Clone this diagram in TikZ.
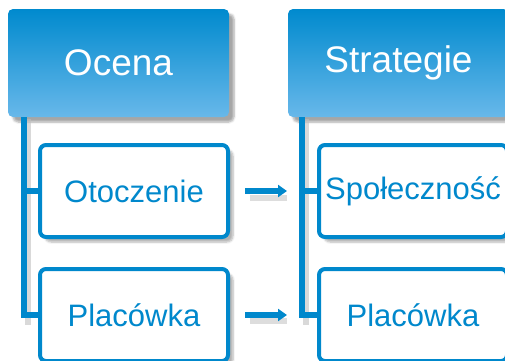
\documentclass[tikz,border=0pt]{standalone}
\usepackage{fontspec}
\setmainfont{Liberation Sans}
\usetikzlibrary{shadows.blur,arrows.meta}
\definecolor{bblue}{RGB}{0,136,204}
\definecolor{btop}{RGB}{0,138,206}
\definecolor{bbot}{RGB}{104,184,234}
\tikzset{
  header/.style={rectangle, rounded corners=5pt, minimum width=221pt, minimum height=108pt,
    top color=btop, bottom color=bbot, draw=none, text=white, inner sep=0pt,
    font=\fontsize{37}{41}\selectfont,
    blur shadow={shadow xshift=5pt, shadow yshift=-5pt, shadow blur steps=6, shadow opacity=35}},
  child/.style={rectangle, rounded corners=6pt, minimum width=188pt, minimum height=92pt,
    draw=bblue, line width=4pt, fill=white, text=bblue, inner sep=0pt,
    font=\fontsize{31}{35}\selectfont,
    blur shadow={shadow xshift=5pt, shadow yshift=-5pt, shadow blur steps=6, shadow opacity=30}},
  conn/.style={draw=bblue, line width=6pt, line join=miter},
  connshadow/.style={draw=black!25, line width=6pt, opacity=0.6},
  arr/.style={draw=bblue, line width=6pt, -{Triangle[length=9pt,width=12pt]}},
  arrshadow/.style={draw=black!22, line width=6pt, opacity=0.6}
}
\begin{document}
\begin{tikzpicture}[x=1pt,y=-1pt]
\useasboundingbox (0,0) rectangle (505,360);
\clip (0,0) rectangle (505,360);
% header nodes
\node[header] (ocena) at (118.5,63) {Ocena};
\node[header] (strat) at (398.5,63) {Strategie};
% connector shadows
\draw[connshadow] ([xshift=20pt,yshift=-2pt]ocena.south west) -- ++(0,206);
\draw[connshadow] ([xshift=18pt,yshift=-2pt]strat.south west) -- ++(0,206);
\draw[arrshadow] (250,198) -- (287,198);
\draw[arrshadow] (250,321) -- (287,321);
% child nodes
\node[child] (oto) at (134,191) {Otoczenie};
\node[child] (plac) at (134,315) {Placówka};
\node[child] (spol) at (413,191) {Społeczność};
\node[child] (plac2) at (413,315) {Placówka};
% connectors
\draw[conn] ([xshift=16pt]ocena.south west) |- (oto.west);
\draw[conn] ([xshift=16pt]ocena.south west) |- (plac.west);
\draw[conn] ([xshift=14pt]strat.south west) |- (spol.west);
\draw[conn] ([xshift=14pt]strat.south west) |- (plac2.west);
\draw[arr] ([xshift=15pt]oto.east) -- ([xshift=-30pt]spol.west);
\draw[arr] ([xshift=15pt]plac.east) -- ([xshift=-30pt]plac2.west);
\end{tikzpicture}
\end{document}
